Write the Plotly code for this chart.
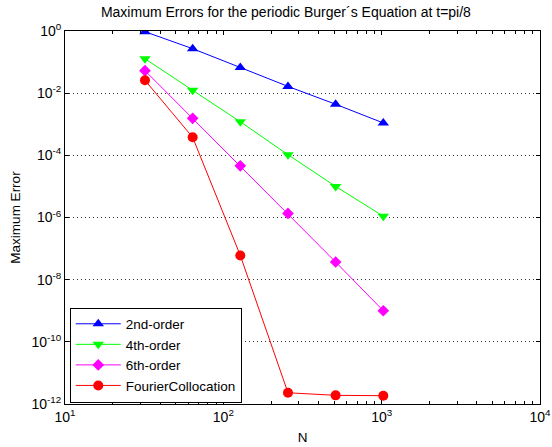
import plotly.graph_objects as go

N = [32, 64, 128, 256, 512, 1024]
err_2nd = [0.95, 0.27, 0.067, 0.0165, 0.0044, 0.0011]
err_4th = [0.128, 0.0125, 0.0012, 1.05e-4, 1.0e-5, 1.1e-6]
err_6th = [0.053, 1.55e-3, 4.6e-5, 1.35e-6, 3.7e-8, 1.0e-9]
err_fourier = [0.026, 3.8e-4, 6.0e-8, 2.3e-12, 1.9e-12, 1.85e-12]

series = [
    ("2nd-order", err_2nd, "#0000ff", "triangle-up"),
    ("4th-order", err_4th, "#00ff00", "triangle-down"),
    ("6th-order", err_6th, "#ff00ff", "diamond"),
    ("FourierCollocation", err_fourier, "#ff0000", "circle"),
]

xticks = [10, 100, 1000, 10000]
xticktext = ["10<sup>1</sup>", "10<sup>2</sup>", "10<sup>3</sup>", "10<sup>4</sup>"]
yticks = [1e0, 1e-2, 1e-4, 1e-6, 1e-8, 1e-10, 1e-12]
yticktext = ["10<sup>0</sup>", "10<sup>-2</sup>", "10<sup>-4</sup>", "10<sup>-6</sup>",
             "10<sup>-8</sup>", "10<sup>-10</sup>", "10<sup>-12</sup>"]

fig = go.Figure()
for name, vals, col, sym in series:
    fig.add_trace(go.Scatter(
        x=N, y=vals, name=name, mode="lines+markers",
        line=dict(color=col, width=1),
        marker=dict(color=col, symbol=sym, size=10 if sym != "diamond" else 9,
                    line=dict(width=0)),
    ))

minor_x = [m * 10 ** d for d in range(1, 4) for m in range(2, 10)]

fam = "Liberation Sans, Arial, sans-serif"
font = dict(family=fam, size=13.5, color="black")
fig.update_layout(
    width=552, height=447,
    margin=dict(l=64.5, r=11.5, t=30.5, b=43, autoexpand=False),
    paper_bgcolor="white", plot_bgcolor="white",
    font=font,
    title=dict(text="Maximum Errors for the periodic Burger\u00b4s Equation at t=pi/8",
               x=0.518, xanchor="center", y=0.972, yanchor="middle",
               font=dict(size=14, family=fam, color="black")),
    showlegend=True,
    legend=dict(x=0.01, y=0.004, xanchor="left", yanchor="bottom",
                bordercolor="black", borderwidth=1, bgcolor="white",
                font=dict(size=13.5, family=fam, color="black"),
                tracegroupgap=0, itemwidth=45),
    xaxis=dict(type="log", range=[1, 4], tickmode="array", tickvals=xticks,
               ticktext=xticktext, ticks="inside", ticklen=4, tickcolor="black",
               showline=True, linecolor="black", linewidth=1, mirror="ticks",
               showgrid=False, zeroline=False, automargin=False,
               tickfont=dict(size=14, family=fam, color="black"),
               minor=dict(tickmode="array", tickvals=minor_x, ticks="inside",
                          ticklen=3, tickcolor="black", showgrid=False),
               title=dict(text="N", standoff=8, font=font)),
    yaxis=dict(type="log", range=[-12, 0], tickmode="array", tickvals=yticks,
               ticktext=yticktext, ticks="inside", ticklen=4, tickcolor="black",
               showline=True, linecolor="black", linewidth=1, mirror="ticks",
               showgrid=True, gridcolor="#333333", griddash="1px,3px", gridwidth=1,
               zeroline=False, automargin=False,
               tickfont=dict(size=14, family=fam, color="black"),
               title=dict(text="Maximum Error", standoff=7, font=font)),
)

fig.write_html("out.html", config={"displayModeBar": False},
               post_script="document.body.style.margin='0';")
